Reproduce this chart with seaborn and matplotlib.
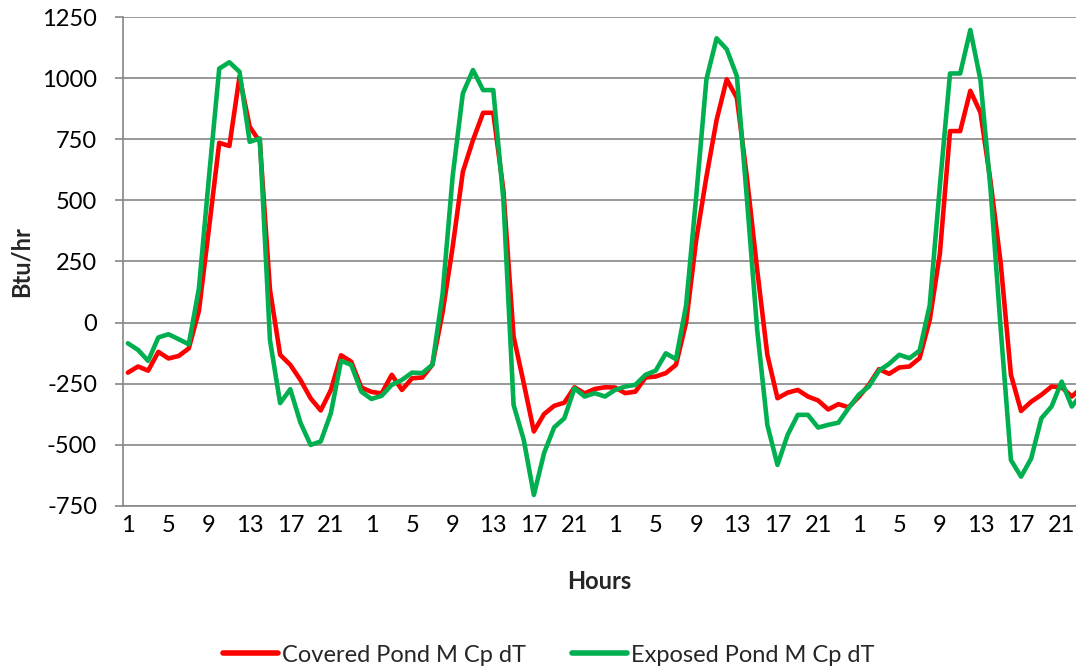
import numpy as np
import pandas as pd
import matplotlib
matplotlib.use("Agg")
import matplotlib.pyplot as plt
import seaborn as sns

hours_per_day = 24
n_days = 4
hour_labels = [str(h) for h in range(1, 25)] * n_days

covered = [-205, -180, -197, -120, -147, -137, -106, 48, 390, 736, 723, 1007,
           802, 740, 134, -132, -173, -235, -310, -360, -276, -134, -160, -266,
           -284, -290, -214, -276, -228, -225, -173, 40, 310, 617, 747, 859,
           859, 540, -57, -248, -446, -375, -341, -328, -265, -290, -272, -265,
           -266, -289, -283, -225, -221, -207, -173, 0, 340, 597, 829, 996,
           920, 590, 216, -132, -310, -287, -276, -303, -319, -356, -334, -347,
           -305, -255, -191, -210, -184, -180, -146, 10, 283, 784, 784, 949,
           860, 575, 240, -214, -362, -324, -296, -262, -265, -303, -265, -250]

exposed = [-85, -112, -157, -61, -48, -68, -89, 140, 600, 1040, 1066, 1027,
           740, 754, -72, -330, -273, -410, -501, -487, -371, -157, -173, -283,
           -313, -300, -255, -235, -205, -207, -173, 115, 600, 938, 1034, 952,
           952, 501, -337, -480, -706, -535, -429, -392, -269, -303, -289, -303,
           -276, -262, -255, -214, -197, -126, -150, 71, 520, 996, 1164, 1119,
           1009, 501, -30, -419, -583, -460, -378, -378, -430, -419, -410, -351,
           -296, -262, -197, -169, -132, -146, -115, 71, 560, 1020, 1020, 1198,
           993, 542, -30, -563, -631, -556, -392, -344, -242, -344, -290, -270]

series_names = ["Covered Pond M Cp dT", "Exposed Pond M Cp dT"]
y_ticks = [-750, -500, -250, 0, 250, 500, 750, 1000, 1250]

idx = np.arange(len(covered))
df = pd.DataFrame({
    "idx": np.concatenate([idx, idx]),
    "value": covered + exposed,
    "series": [series_names[0]] * len(covered) + [series_names[1]] * len(exposed),
})

sns.set_theme(style="white")
plt.rcParams["font.family"] = ["Lato", "DejaVu Sans"]

FS = 17
W, H = 1076, 668
fig = plt.figure(figsize=(W / 100, H / 100), dpi=100)
left_px, right_px, top_px, bottom_px = 122.8, 1076, 17.3, 505.7
ax = fig.add_axes([left_px / W, 1 - bottom_px / H,
                   (right_px - left_px) / W, (bottom_px - top_px) / H])

sns.lineplot(data=df, x="idx", y="value", hue="series",
             palette={series_names[0]: "#FF0000", series_names[1]: "#00B050"},
             linewidth=3.3, ax=ax, legend=False, estimator=None, sort=False)

cat_w = 10.15
ax.set_xlim(-0.5, (right_px - left_px) / cat_w - 0.5)
ax.set_ylim(-750, 1250)
ax.set_yticks(y_ticks)
ax.set_yticklabels([str(v) for v in y_ticks])

label_pos = list(range(0, len(covered), 4))
ax.set_xticks(label_pos)
ax.set_xticklabels([hour_labels[i] for i in label_pos])
ax.set_xticks([p - 0.5 for p in label_pos], minor=True)
ax.tick_params(axis="x", which="major", length=0, pad=6.5, labelsize=FS, colors="black")
ax.tick_params(axis="x", which="minor", length=5, width=1.2, color="#868686", direction="out")
ax.tick_params(axis="y", which="major", length=6, width=1.2, color="#868686",
               direction="out", pad=12.5, labelsize=FS, labelcolor="black")
ax.tick_params(axis="both", bottom=True, left=True)

ax.grid(axis="y", color="#868686", linewidth=1.2)
ax.set_axisbelow(True)
for s in ["top", "right"]:
    ax.spines[s].set_visible(False)
for s in ["left", "bottom"]:
    ax.spines[s].set_color("#868686")
    ax.spines[s].set_linewidth(1.2)

ax.set_xlabel("Hours", fontsize=FS, fontweight="bold", labelpad=24.5)
ax.set_ylabel("Btu/hr", fontsize=FS, fontweight="bold", labelpad=7)

handles = [plt.Line2D([], [], color="#FF0000", linewidth=4),
           plt.Line2D([], [], color="#00B050", linewidth=4)]
fig.legend(handles, series_names, loc="center", bbox_to_anchor=(548.5 / W, 1 - 655 / H),
           ncol=2, frameon=False, fontsize=FS, handlelength=2.33, handletextpad=0.17,
           columnspacing=1.95, borderpad=0, borderaxespad=0)

fig.savefig("out.png", dpi=100)
